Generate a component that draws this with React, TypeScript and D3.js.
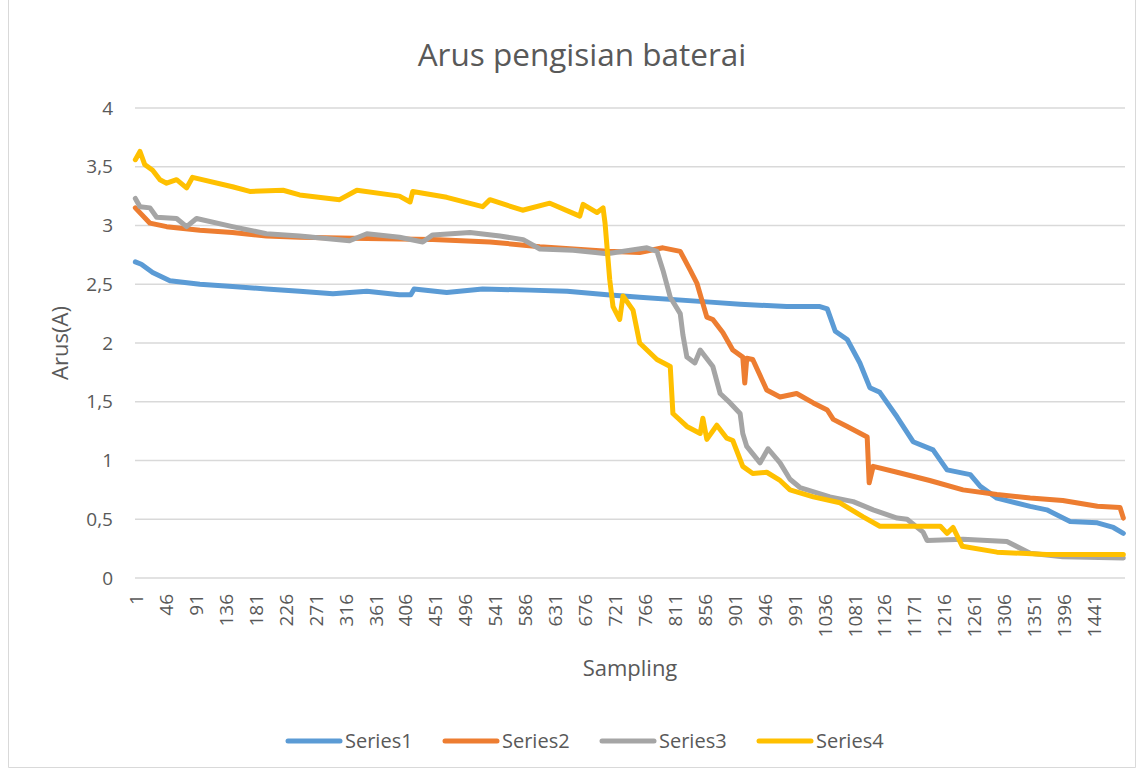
import * as d3 from 'd3';

// values: [sample, arus (A)]
const series1: [number, number][] = [
  [1, 2.69], [10, 2.67], [27, 2.6], [53, 2.53], [98, 2.5], [147, 2.48], [198, 2.46],
  [248, 2.44], [298, 2.42], [349, 2.44], [398, 2.41], [415, 2.41], [420, 2.46], [469, 2.43],
  [523, 2.46], [594, 2.45], [650, 2.44], [710, 2.41], [759, 2.39], [860, 2.35], [910, 2.33],
  [980, 2.31], [1030, 2.31], [1041, 2.29], [1053, 2.1], [1071, 2.03], [1090, 1.83],
  [1105, 1.62], [1120, 1.58], [1146, 1.37], [1170, 1.16], [1200, 1.09], [1221, 0.92],
  [1256, 0.88], [1271, 0.78], [1296, 0.68], [1346, 0.61], [1371, 0.58], [1406, 0.48],
  [1447, 0.47], [1471, 0.43], [1486, 0.38],
];

const series2: [number, number][] = [
  [1, 3.15], [23, 3.02], [48, 2.99], [98, 2.96], [147, 2.94], [198, 2.91], [248, 2.9],
  [349, 2.89], [448, 2.88], [534, 2.86], [609, 2.82], [710, 2.78], [759, 2.77], [794, 2.81],
  [820, 2.78], [835, 2.62], [845, 2.51], [860, 2.22], [869, 2.2], [884, 2.09], [899, 1.94],
  [914, 1.88], [917, 1.66], [920, 1.87], [929, 1.86], [950, 1.6], [970, 1.54], [995, 1.57],
  [1020, 1.49], [1041, 1.43], [1050, 1.35], [1071, 1.29], [1101, 1.2], [1104, 0.81],
  [1110, 0.95], [1146, 0.9], [1195, 0.83], [1245, 0.75], [1296, 0.71], [1346, 0.68],
  [1395, 0.66], [1447, 0.61], [1481, 0.6], [1486, 0.51],
];

const series3: [number, number][] = [
  [1, 3.23], [8, 3.16], [23, 3.15], [33, 3.07], [63, 3.06], [78, 2.99], [93, 3.06],
  [147, 2.99], [198, 2.93], [248, 2.91], [323, 2.87], [349, 2.93], [398, 2.9], [433, 2.86],
  [448, 2.92], [504, 2.94], [549, 2.91], [584, 2.88], [609, 2.8], [659, 2.79], [710, 2.76],
  [770, 2.81], [785, 2.78], [794, 2.62], [805, 2.39], [820, 2.25], [824, 2.07], [830, 1.88],
  [842, 1.83], [850, 1.94], [869, 1.8], [880, 1.57], [895, 1.49], [910, 1.4], [914, 1.23],
  [920, 1.12], [940, 0.98], [952, 1.1], [970, 0.98], [985, 0.84], [1000, 0.77], [1045, 0.69],
  [1080, 0.65], [1110, 0.58], [1146, 0.51], [1161, 0.5], [1185, 0.39], [1191, 0.32],
  [1245, 0.33], [1311, 0.31], [1346, 0.21], [1395, 0.18], [1486, 0.17],
];

const series4: [number, number][] = [
  [1, 3.56], [8, 3.63], [15, 3.52], [27, 3.47], [38, 3.39], [48, 3.36], [63, 3.39],
  [78, 3.32], [87, 3.41], [147, 3.33], [173, 3.29], [223, 3.3], [248, 3.26], [308, 3.22],
  [334, 3.3], [398, 3.25], [414, 3.2], [418, 3.29], [469, 3.24], [523, 3.16], [534, 3.22],
  [583, 3.13], [624, 3.19], [669, 3.08], [674, 3.18], [695, 3.11], [704, 3.15], [707, 3.02],
  [714, 2.54], [719, 2.31], [729, 2.2], [734, 2.4], [749, 2.28], [759, 2.0], [785, 1.86],
  [805, 1.8], [809, 1.4], [830, 1.29], [850, 1.23], [854, 1.36], [860, 1.18], [875, 1.3],
  [890, 1.19], [899, 1.17], [914, 0.95], [929, 0.89], [950, 0.9], [970, 0.83], [985, 0.75],
  [1020, 0.69], [1060, 0.64], [1095, 0.52], [1120, 0.44], [1211, 0.44], [1221, 0.38],
  [1230, 0.43], [1244, 0.27], [1296, 0.22], [1371, 0.2], [1486, 0.2],
];

const seriesNames = ['Series1', 'Series2', 'Series3', 'Series4'];
const seriesColors = ['#5B9BD5', '#ED7D31', '#A5A5A5', '#FFC000'];
const sampleCount = 1488;
const xTickLabels = [
  1, 46, 91, 136, 181, 226, 271, 316, 361, 406, 451, 496, 541, 586, 631, 676, 721, 766,
  811, 856, 901, 946, 991, 1036, 1081, 1126, 1171, 1216, 1261, 1306, 1351, 1396, 1441,
];
const yTicks = [0, 0.5, 1, 1.5, 2, 2.5, 3, 3.5, 4];

const W = 1145;
const H = 771;
const FONT = '"Open Sans", "Noto Sans", sans-serif';
const TEXT = '#595959';
const GRID = '#D9D9D9';

export default function App() {
  const allSeries = [series1, series2, series3, series4];

  const xScale = d3.scaleLinear().domain([0.5, sampleCount + 0.5]).range([135, 1125]);
  const yScale = d3.scaleLinear().domain([0, 4]).range([578, 108]);

  const line = d3
    .line<[number, number]>()
    .x((d) => xScale(d[0]))
    .y((d) => yScale(d[1]));

  const fmt = (v: number) => String(v).replace('.', ',');

  return (
    <svg
      width={W}
      height={H}
      style={{ position: 'absolute', left: 0, top: 0, background: '#fff' }}
      fontFamily={FONT}
    >
      {/* chart area border */}
      <path d={`M8.5,0 V767.5 H1135.5 V0`} fill="none" stroke={GRID} strokeWidth={1} />

      <text x={582} y={66} textAnchor="middle" fontSize={31.5} fill={TEXT}>
        Arus pengisian baterai
      </text>

      {/* gridlines */}
      {yTicks.map((t) => (
        <line
          key={t}
          x1={135}
          x2={1125}
          y1={yScale(t)}
          y2={yScale(t)}
          stroke={GRID}
          strokeWidth={1.5}
        />
      ))}

      {/* y tick labels */}
      {yTicks.map((t) => (
        <text
          key={'yl' + t}
          x={113}
          y={yScale(t)}
          dy="0.35em"
          textAnchor="end"
          fontSize={19}
          fill={TEXT}
        >
          {fmt(t)}
        </text>
      ))}

      {/* x tick labels */}
      {xTickLabels.map((t) => (
        <text
          key={'xl' + t}
          transform={`translate(${xScale(t) + 1},${594}) rotate(-90)`}
          dy="0.35em"
          textAnchor="end"
          fontSize={19}
          fill={TEXT}
        >
          {t}
        </text>
      ))}

      <text x={630} y={676} textAnchor="middle" fontSize={22} fill={TEXT}>
        Sampling
      </text>
      <text
        transform={`translate(68,343) rotate(-90)`}
        textAnchor="middle"
        fontSize={22}
        fill={TEXT}
      >
        Arus(A)
      </text>

      {/* lines */}
      {allSeries.map((s, i) => (
        <path
          key={seriesNames[i]}
          d={line(s) || ''}
          fill="none"
          stroke={seriesColors[i]}
          strokeWidth={5}
          strokeLinejoin="round"
          strokeLinecap="round"
        />
      ))}

      {/* legend */}
      {seriesNames.map((n, i) => {
        const lx = 286 + i * 157;
        return (
          <g key={'lg' + n}>
            <line
              x1={lx + 2}
              x2={lx + 54}
              y1={741}
              y2={741}
              stroke={seriesColors[i]}
              strokeWidth={5}
              strokeLinecap="round"
            />
            <text x={lx + 59} y={741} dy="0.35em" fontSize={20} fill={TEXT}>
              {n}
            </text>
          </g>
        );
      })}
    </svg>
  );
}
